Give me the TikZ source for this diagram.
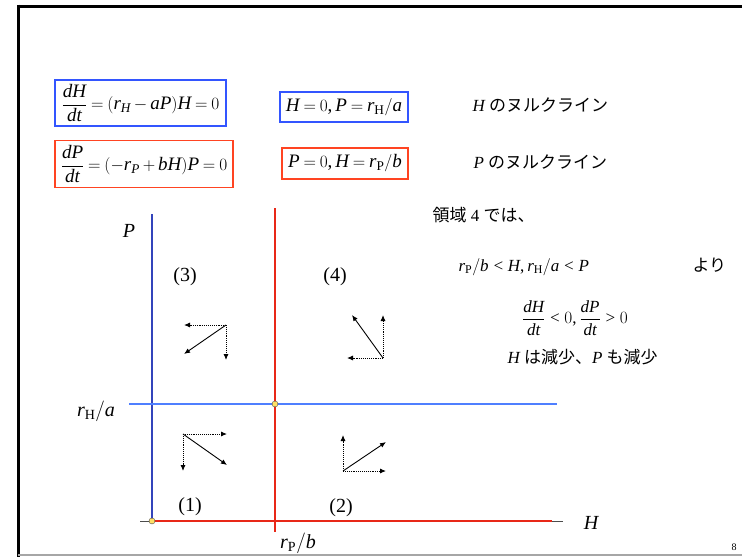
\documentclass[tikz,border=0pt]{standalone}
\usepackage{amsmath}
\usepackage{fontspec}
\setmainfont{Liberation Serif}
\DeclareSymbolFont{operators}{TU}{\rmdefault}{m}{n}
\DeclareSymbolFont{letters}{TU}{\rmdefault}{m}{it}
\mathcode`,="602C
\mathcode`/="002F
\thickmuskip=4mu plus 2mu
\medmuskip=3mu plus 1mu
\newfontfamily\jp{Noto Sans CJK JP}
\usetikzlibrary{arrows.meta}
\definecolor{boxblue}{HTML}{3355FF}
\definecolor{boxred}{HTML}{FF4422}
\definecolor{axisblue}{HTML}{3344BB}
\definecolor{lineblue}{HTML}{4F7FFF}
\definecolor{linered}{HTML}{E82818}
\definecolor{dotyellow}{HTML}{FFE066}

\begin{document}
\begin{tikzpicture}[x=1pt,y=-1pt,>={Latex[length=6pt,width=5pt]},
  every node/.style={font=\fontsize{17}{20}\selectfont},
  eqbox/.style={draw,line width=1.2pt,inner sep=2pt,font=\fontsize{19}{22}\selectfont},
  axlabel/.style={font=\fontsize{20}{23}\selectfont},
  vec/.style={->,line width=0.9pt},
  comp/.style={->,densely dotted,line width=0.9pt},
  fixpt/.style={circle,draw=black!70,fill=dotyellow,inner sep=0pt,minimum size=6pt}]
\useasboundingbox (0,0) rectangle (742,557);
% slide frame
\draw[line width=3pt] (17,6) -- (742,6);
\draw[line width=3pt] (18.5,4.5) -- (18.5,557);
\draw[gray!70,line width=1.5pt] (18,555) -- (742,555);
\node[font=\fontsize{10}{12}\selectfont] (page) at (734,547) {8};

% equations and nullclines
\node[eqbox,draw=boxblue,minimum width=171pt,minimum height=46pt] (eqH) at (140.5,103) {$\dfrac{dH}{dt}=(r_H-aP)H=0$};
\node[eqbox,draw=boxred,minimum width=178pt,minimum height=47pt] (eqP) at (144,164) {$\dfrac{dP}{dt}=(-r_P+bH)P=0$};
\node[eqbox,draw=boxblue,minimum width=128pt,minimum height=30pt] (nullH) at (344,107) {$H=0,P=r_{\mathrm{H}}/a$};
\node[eqbox,draw=boxred,minimum width=126pt,minimum height=31pt] (nullP) at (345,163.5) {$P=0,H=r_{\mathrm{P}}/b$};
\node[anchor=west] (lblH) at (469,105) {$H$ {\jp のヌルクライン}};
\node[anchor=west] (lblP) at (470,162) {$P$ {\jp のヌルクライン}};

% region 4 text
\node[anchor=west] (reg) at (429,215) {{\jp 領域} 4 {\jp では、}};
\node[anchor=west] (ineq) at (455,267) {$r_{\mathrm{P}}/b<H,r_{\mathrm{H}}/a<P$};
\node[anchor=west] (yori) at (689,265) {\jp より};
\node (sign) at (575,318) {$\dfrac{dH}{dt}<0,\dfrac{dP}{dt}>0$};
\node[anchor=west] (dec) at (504,357) {$H$ {\jp は減少、}$P$ {\jp も減少}};

% axes and nullclines
\coordinate (O) at (152,521);
\coordinate (Hstart) at (140,521);
\coordinate (Hend) at (563,521);
\coordinate (Hred) at (552,521);
\coordinate (Ptop) at (152,214);
\coordinate (vtop) at (275,208);
\coordinate (vbot) at (275,532);
\coordinate (hleft) at (129,404);
\coordinate (hright) at (557,404);
\draw[black!70,line width=1pt] (Hstart) -- (Hend);
\draw[linered,line width=1.8pt] (O) -- (Hred);
\draw[axisblue,line width=1.8pt] (O) -- (Ptop);
\draw[linered,line width=1.15pt] (vtop) -- (vbot);
\draw[lineblue,line width=1.2pt] (hleft) -- (hright);
\node[fixpt] (fp0) at (O) {};
\node[fixpt] (fp1) at (275,404) {};

\node[axlabel] (axP) at (129,231) {$P$};
\node[axlabel] (axH) at (591,523) {$H$};
\node[axlabel] (rH) at (96,411) {$r_{\mathrm{H}}/a$};
\node[axlabel] (rP) at (298,543) {$r_{\mathrm{P}}/b$};
\node[axlabel] (n3) at (185,277) {(3)};
\node[axlabel] (n4) at (335,277) {(4)};
\node[axlabel] (n1) at (190,507) {(1)};
\node[axlabel] (n2) at (341,508) {(2)};

% direction arrows
\coordinate (o3) at (226,325);
\coordinate (o3h) at (184,325);
\coordinate (o3v) at (226,360);
\coordinate (o3r) at (184,354);
\draw[comp] (o3) -- (o3h);
\draw[comp] (o3) -- (o3v);
\draw[vec] (o3) -- (o3r);
\coordinate (o4) at (383,358);
\coordinate (o4h) at (347,358);
\coordinate (o4v) at (383,315);
\coordinate (o4r) at (352,315);
\draw[comp] (o4) -- (o4h);
\draw[comp] (o4) -- (o4v);
\draw[vec] (o4) -- (o4r);
\coordinate (o1) at (183,434);
\coordinate (o1h) at (227,434);
\coordinate (o1v) at (183,471);
\coordinate (o1r) at (227,465);
\draw[comp] (o1) -- (o1h);
\draw[comp] (o1) -- (o1v);
\draw[vec] (o1) -- (o1r);
\coordinate (o2) at (343,471);
\coordinate (o2h) at (386,471);
\coordinate (o2v) at (343,435);
\coordinate (o2r) at (386,442);
\draw[comp] (o2) -- (o2h);
\draw[comp] (o2) -- (o2v);
\draw[vec] (o2) -- (o2r);
\end{tikzpicture}
\end{document}
